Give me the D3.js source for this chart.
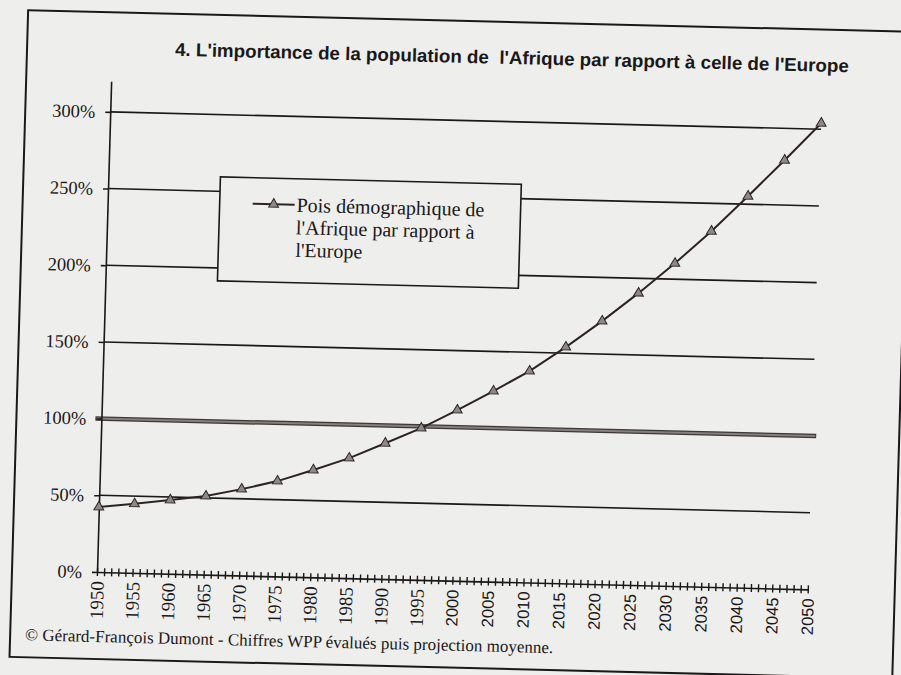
<!DOCTYPE html>
<html>
<head>
<meta charset="utf-8">
<script src="https://cdn.jsdelivr.net/npm/d3@7"></script>
<style>
  body { margin: 0; background: #eeeeec; }
  svg { display: block; }
</style>
</head>
<body>
<div id="chart"></div>
<script>
// ── Data: Africa population as % of Europe's (WPP, medium projection) ──
const years = [1950, 1955, 1960, 1965, 1970, 1975, 1980, 1985, 1990, 1995, 2000,
               2005, 2010, 2015, 2020, 2025, 2030, 2035, 2040, 2045, 2050];
const ratio = [42.4, 45.0, 48.1, 51.2, 56.3, 62.1, 69.9, 78.2, 88.5, 98.9, 111.2,
               124.2, 137.8, 154.0, 171.5, 190.3, 210.3, 231.8, 255.2, 279.2, 303.9];
const yTickValues = [0, 50, 100, 150, 200, 250, 300];
const yTickLabels = ["0%", "50%", "100%", "150%", "200%", "250%", "300%"];
const gridValues  = [50, 150, 200, 250, 300];
const refValue    = 100;

const title = "4. L'importance de la population de  l'Afrique par rapport à celle de l'Europe";
const legendLines = ["Pois démographique de", "l'Afrique par rapport à", "l'Europe"];
const credit = "© Gérard-François Dumont - Chiffres WPP évalués puis projection moyenne.";

function drawChart() {
    const W = 901, H = 675;
    const ink = "#1a1818";
    const serif = "'Liberation Serif', 'Times New Roman', serif";
    const sans  = "'Liberation Sans', Arial, sans-serif";

    const svg = d3.select("#chart").append("svg")
        .attr("width", W).attr("height", H);
    svg.append("rect").attr("width", W).attr("height", H).attr("fill", "#eeeeec");

    // the scanned page sits slightly askew: origin = 1950 / 0%
    const g = svg.append("g")
        .attr("transform", "translate(97,572) rotate(1.4) skewX(-0.25)");

    const x = d3.scaleLinear().domain([1950, 2050]).range([0, 711]);
    const y = d3.scaleLinear().domain([0, 320]).range([0, -491]);

    // outer frame
    g.append("rect")
        .attr("x", -85).attr("y", -560).attr("width", 883).attr("height", 647)
        .attr("fill", "none").attr("stroke", ink).attr("stroke-width", 2);

    // title
    g.append("text")
        .attr("x", 63).attr("y", -518)
        .attr("xml:space", "preserve").style("white-space", "pre")
        .attr("textLength", 674).attr("lengthAdjust", "spacingAndGlyphs")
        .style("font-family", sans).style("font-weight", "bold")
        .style("font-size", "18.5px").style("fill", ink)
        .text(title);

    // gridlines
    g.append("g").selectAll("line").data(gridValues).join("line")
        .attr("x1", 0).attr("x2", x(2050))
        .attr("y1", d => y(d)).attr("y2", d => y(d))
        .attr("stroke", ink).attr("stroke-width", 1.6);

    // thick 100% line
    g.append("line")
        .attr("x1", -6).attr("x2", x(2050) + 4).attr("y1", y(refValue)).attr("y2", y(refValue))
        .attr("stroke", "#3d3936").attr("stroke-width", 4.5);
    g.append("line")
        .attr("x1", -5).attr("x2", x(2050) + 3).attr("y1", y(refValue)).attr("y2", y(refValue))
        .attr("stroke", "#85807b").attr("stroke-width", 2);

    // y axis
    const yAxis = g.append("g")
        .call(d3.axisLeft(y).tickValues(yTickValues).tickSize(5).tickSizeOuter(0)
            .tickPadding(10).tickFormat((d, i) => yTickLabels[i]));
    yAxis.select(".domain").attr("stroke", ink).attr("stroke-width", 1.6);
    yAxis.selectAll(".tick line").attr("stroke", ink).attr("stroke-width", 1.6);
    yAxis.selectAll(".tick text")
        .style("font-family", serif).style("font-size", "18.5px").style("fill", ink);

    // x axis: a crossing tick every year, a label every 5 years
    const xAxis = g.append("g")
        .call(d3.axisBottom(x).tickValues(d3.range(1950, 2051)).tickSize(0).tickSizeOuter(0)
            .tickFormat(d => years.includes(d) ? d : ""));
    xAxis.select(".domain").attr("stroke", ink).attr("stroke-width", 1.6);
    xAxis.selectAll(".tick line").attr("y1", -4).attr("y2", 4)
        .attr("stroke", ink).attr("stroke-width", 1.4);
    xAxis.selectAll(".tick text")
        .attr("transform", "rotate(-90)")
        .attr("x", -9).attr("y", 0).attr("dy", "0.35em")
        .attr("text-anchor", "end")
        .style("font-family", d => d >= 2000 ? sans : serif)
        .style("font-size", d => d >= 2000 ? "16.5px" : "19px")
        .style("fill", ink);

    // series
    const line = d3.line().x(d => x(d.year)).y(d => y(d.value));
    const series = years.map((yr, i) => ({ year: yr, value: ratio[i] }));

    g.append("path").datum(series)
        .attr("d", line).attr("fill", "none")
        .attr("stroke", "#2b2422").attr("stroke-width", 2);

    const tri = d3.symbol(d3.symbolTriangle).size(42);
    g.append("g").selectAll("path").data(series).join("path")
        .attr("d", tri)
        .attr("transform", d => `translate(${x(d.year)},${y(d.value)})`)
        .attr("fill", "#8e8985").attr("stroke", "#2b2422").attr("stroke-width", 1);

    // legend
    const lg = g.append("g");
    lg.append("rect")
        .attr("x", 112).attr("y", -398).attr("width", 301).attr("height", 104)
        .attr("fill", "#eeeeec").attr("stroke", ink).attr("stroke-width", 1.6);
    lg.append("line")
        .attr("x1", 145).attr("x2", 187).attr("y1", -372).attr("y2", -372)
        .attr("stroke", "#2b2422").attr("stroke-width", 2);
    lg.append("path").attr("d", tri)
        .attr("transform", "translate(166,-372)")
        .attr("fill", "#8e8985").attr("stroke", "#2b2422").attr("stroke-width", 1);
    lg.selectAll("text.leg").data(legendLines).join("text").attr("class", "leg")
        .attr("x", 189).attr("y", (d, i) => -365 + i * 22.5)
        .style("font-family", serif).style("font-size", "20px").style("fill", ink)
        .text(d => d);

    // source line
    g.append("text")
        .attr("x", -70).attr("y", 70)
        .style("font-family", serif).style("font-size", "17px").style("fill", ink)
        .text(credit);
}

drawChart();
</script>
</body>
</html>
